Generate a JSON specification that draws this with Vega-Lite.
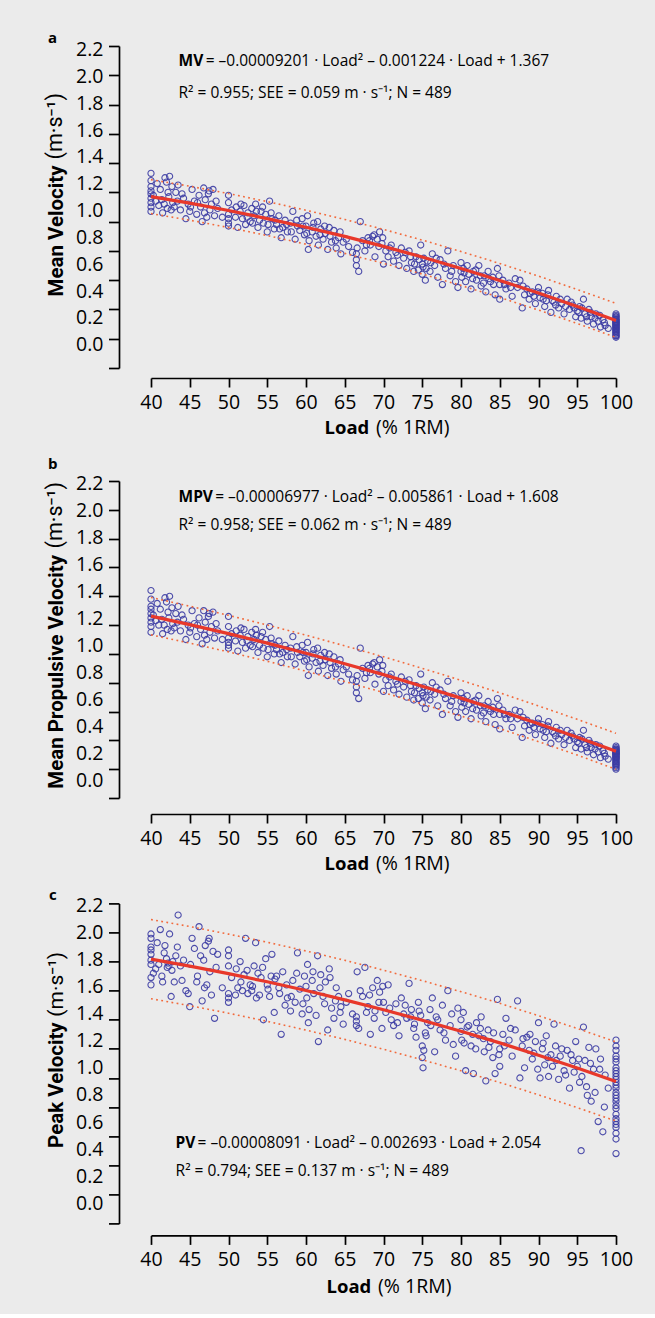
{
"$schema":"https://vega.github.io/schema/vega-lite/v6.json",
"background":"#ebebeb",
"padding":{"left":44,"top":31,"right":23,"bottom":18},
"spacing":20,
"config":{"view":{"stroke":null},"axis":{"grid":false,"domainColor":"#000","tickColor":"#000","labelColor":"#000","titleColor":"#000","domainWidth":1.7,"tickWidth":1.7}},
"datasets":{
"pts":[
{"x":40,"a":1.33,"b":1.44,"c":1.99},{"x":40,"a":1.28,"b":1.38,"c":1.96},{"x":40,"a":1.21,"b":1.31,"c":1.90},{"x":40,"a":1.16,"b":1.25,"c":1.85},{"x":40,"a":1.13,"b":1.22,"c":1.69},{"x":40,"a":1.10,"b":1.19,"c":1.64},{"x":40,"a":1.07,"b":1.15,"c":1.78},{"x":40,"a":1.24,"b":1.33,"c":1.88},{"x":40,"a":1.19,"b":1.28,"c":1.81},
{"x":40.6,"a":1.14,"b":1.23,"c":1.75},{"x":41,"a":1.11,"b":1.20,"c":1.78},{"x":41.2,"a":1.22,"b":1.31,"c":2.02},{"x":41.5,"a":1.06,"b":1.14,"c":1.66},{"x":41.8,"a":1.30,"b":1.39,"c":1.91},{"x":42,"a":1.27,"b":1.36,"c":1.82},{"x":42.1,"a":1.09,"b":1.17,"c":1.76},{"x":42.3,"a":1.17,"b":1.25,"c":1.77},{"x":42.4,"a":1.31,"b":1.40,"c":1.99},{"x":42.6,"a":1.08,"b":1.16,"c":1.56},{"x":42.8,"a":1.13,"b":1.21,"c":1.80},{"x":43,"a":1.10,"b":1.18,"c":1.66},{"x":43.2,"a":1.20,"b":1.28,"c":1.84},{"x":43.5,"a":1.25,"b":1.33,"c":2.12},{"x":43.8,"a":1.08,"b":1.16,"c":1.77},{"x":44.2,"a":1.16,"b":1.24,"c":1.81},{"x":44.5,"a":1.02,"b":1.10,"c":1.60},{"x":44.8,"a":1.12,"b":1.20,"c":1.58},
{"x":45,"a":1.07,"b":1.15,"c":1.49},{"x":45.3,"a":1.22,"b":1.30,"c":1.96},{"x":45.6,"a":1.14,"b":1.21,"c":1.89},{"x":45.9,"a":1.05,"b":1.12,"c":1.66},{"x":46.2,"a":1.18,"b":1.25,"c":2.04},{"x":46.4,"a":1.10,"b":1.17,"c":1.84},{"x":46.6,"a":1.00,"b":1.07,"c":1.53},{"x":46.8,"a":1.23,"b":1.30,"c":1.81},{"x":47,"a":1.15,"b":1.22,"c":1.91},{"x":47.2,"a":1.03,"b":1.10,"c":1.64},{"x":47.4,"a":1.19,"b":1.26,"c":1.94},{"x":47.6,"a":1.08,"b":1.15,"c":1.73},{"x":47.8,"a":1.12,"b":1.19,"c":1.57},{"x":48,"a":1.22,"b":1.29,"c":1.87},{"x":48.2,"a":1.04,"b":1.11,"c":1.41},{"x":48.6,"a":1.09,"b":1.16,"c":1.85},{"x":49.2,"a":1.03,"b":1.10,"c":1.62},
{"x":50,"a":1.18,"b":1.26,"c":1.88},{"x":50,"a":1.13,"b":1.19,"c":1.84},{"x":50,"a":1.02,"b":1.08,"c":1.58},{"x":50,"a":0.97,"b":1.04,"c":1.52},{"x":50,"a":0.99,"b":1.06,"c":1.55},{"x":50,"a":1.05,"b":1.11,"c":1.77},
{"x":51,"a":1.10,"b":1.16,"c":1.75},{"x":51.2,"a":0.96,"b":1.02,"c":1.62},{"x":51.5,"a":1.07,"b":1.13,"c":1.80},{"x":51.8,"a":1.02,"b":1.08,"c":1.60},{"x":52,"a":1.11,"b":1.17,"c":1.71},{"x":52.2,"a":0.98,"b":1.04,"c":1.96},{"x":52.5,"a":1.06,"b":1.12,"c":1.58},{"x":52.8,"a":1.00,"b":1.06,"c":1.64},{"x":53,"a":1.09,"b":1.15,"c":1.60},{"x":53.3,"a":1.04,"b":1.10,"c":1.77},{"x":53.5,"a":1.12,"b":1.17,"c":1.93},{"x":53.8,"a":0.96,"b":1.01,"c":1.72},{"x":54,"a":1.01,"b":1.06,"c":1.57},{"x":54.2,"a":1.07,"b":1.12,"c":1.69},{"x":54.5,"a":0.99,"b":1.04,"c":1.40},{"x":54.8,"a":1.05,"b":1.10,"c":1.82},{"x":55,"a":0.93,"b":0.98,"c":1.64},{"x":55.3,"a":1.14,"b":1.19,"c":1.56},{"x":55.6,"a":1.02,"b":1.07,"c":1.85},{"x":55.9,"a":0.95,"b":1.00,"c":1.45},
{"x":56.2,"a":0.98,"b":1.03,"c":1.70},{"x":56.5,"a":1.04,"b":1.09,"c":1.62},{"x":56.8,"a":0.89,"b":0.94,"c":1.30},{"x":57,"a":0.96,"b":1.01,"c":1.73},{"x":57.3,"a":1.01,"b":1.06,"c":1.50},{"x":57.6,"a":0.93,"b":0.98,"c":1.55},{"x":58,"a":0.99,"b":1.04,"c":1.46},{"x":58.3,"a":1.07,"b":1.12,"c":1.67},{"x":58.6,"a":0.88,"b":0.93,"c":1.52},{"x":58.9,"a":0.97,"b":1.01,"c":1.86},{"x":59.2,"a":0.94,"b":0.98,"c":1.61},{"x":59.5,"a":1.02,"b":1.06,"c":1.44},{"x":59.8,"a":0.91,"b":0.95,"c":1.70},
{"x":60,"a":0.97,"b":1.01,"c":1.63},{"x":60.2,"a":1.04,"b":1.08,"c":1.78},{"x":60.4,"a":0.87,"b":0.91,"c":1.47},{"x":60.3,"a":0.81,"b":0.85,"c":1.38},{"x":60.8,"a":0.93,"b":0.97,"c":1.67},{"x":61,"a":0.99,"b":1.03,"c":1.58},{"x":61.3,"a":0.90,"b":0.94,"c":1.43},{"x":61.5,"a":1.00,"b":1.04,"c":1.84},{"x":61.6,"a":0.84,"b":0.88,"c":1.25},{"x":61.9,"a":0.95,"b":0.99,"c":1.71},{"x":62.2,"a":0.88,"b":0.92,"c":1.56},{"x":62.5,"a":0.92,"b":0.96,"c":1.66},{"x":62.8,"a":0.81,"b":0.85,"c":1.33},{"x":63,"a":0.96,"b":1.00,"c":1.75},{"x":63.3,"a":0.86,"b":0.90,"c":1.48},{"x":63.6,"a":0.94,"b":0.98,"c":1.41},{"x":63.9,"a":0.82,"b":0.86,"c":1.62},{"x":64.2,"a":0.89,"b":0.93,"c":1.56},{"x":64.5,"a":0.78,"b":0.81,"c":1.49},{"x":64.8,"a":0.86,"b":0.89,"c":1.37},
{"x":65.5,"a":0.83,"b":0.86,"c":1.58},{"x":66,"a":0.79,"b":0.82,"c":1.44},{"x":66.5,"a":0.74,"b":0.77,"c":1.39},{"x":66.5,"a":0.70,"b":0.73,"c":1.36},{"x":66.5,"a":0.78,"b":0.81,"c":1.42},{"x":66.6,"a":0.82,"b":0.85,"c":1.73},{"x":66.8,"a":0.66,"b":0.69,"c":1.34},{"x":67,"a":1.00,"b":1.04,"c":1.60},{"x":67.3,"a":0.87,"b":0.90,"c":1.56},{"x":67.6,"a":0.80,"b":0.83,"c":1.76},{"x":68,"a":0.89,"b":0.92,"c":1.49},{"x":68.3,"a":0.84,"b":0.87,"c":1.30},{"x":68.6,"a":0.90,"b":0.93,"c":1.62},{"x":68.9,"a":0.76,"b":0.79,"c":1.46},{"x":69.2,"a":0.88,"b":0.91,"c":1.67},{"x":69.5,"a":0.93,"b":0.96,"c":1.59},{"x":69.8,"a":0.85,"b":0.88,"c":1.34},{"x":70,"a":0.71,"b":0.74,"c":1.52},
{"x":70.3,"a":0.80,"b":0.82,"c":1.45},{"x":70.6,"a":0.76,"b":0.78,"c":1.64},{"x":71,"a":0.84,"b":0.86,"c":1.40},{"x":71.3,"a":0.73,"b":0.75,"c":1.36},{"x":71.6,"a":0.79,"b":0.81,"c":1.51},{"x":72,"a":0.70,"b":0.72,"c":1.29},{"x":72.3,"a":0.82,"b":0.84,"c":1.55},{"x":72.6,"a":0.75,"b":0.77,"c":1.44},{"x":73,"a":0.68,"b":0.70,"c":1.41},{"x":73.3,"a":0.80,"b":0.82,"c":1.65},{"x":73.6,"a":0.72,"b":0.74,"c":1.47},{"x":73.9,"a":0.66,"b":0.68,"c":1.34},{"x":74.2,"a":0.76,"b":0.78,"c":1.28},{"x":74.5,"a":0.67,"b":0.69,"c":1.52},{"x":74.8,"a":0.84,"b":0.86,"c":1.43},
{"x":75,"a":0.71,"b":0.73,"c":1.22},{"x":75,"a":0.64,"b":0.66,"c":1.14},{"x":75.1,"a":0.69,"b":0.71,"c":1.07},{"x":75.2,"a":0.75,"b":0.77,"c":1.19},{"x":75.4,"a":0.60,"b":0.62,"c":1.31},{"x":75.7,"a":0.73,"b":0.75,"c":1.38},{"x":76,"a":0.66,"b":0.68,"c":1.47},{"x":76.3,"a":0.78,"b":0.80,"c":1.55},{"x":76.6,"a":0.70,"b":0.72,"c":1.18},{"x":77,"a":0.62,"b":0.64,"c":1.40},{"x":77.3,"a":0.74,"b":0.75,"c":1.33},{"x":77.6,"a":0.57,"b":0.58,"c":1.50},{"x":78,"a":0.68,"b":0.69,"c":1.26},{"x":78.3,"a":0.80,"b":0.81,"c":1.60},{"x":78.6,"a":0.63,"b":0.64,"c":1.36},{"x":79,"a":0.70,"b":0.71,"c":1.23},{"x":79.3,"a":0.59,"b":0.60,"c":1.15},{"x":79.6,"a":0.55,"b":0.56,"c":1.48},
{"x":80,"a":0.66,"b":0.67,"c":1.32},{"x":80,"a":0.72,"b":0.73,"c":1.40},{"x":80.1,"a":0.62,"b":0.63,"c":1.26},{"x":80.3,"a":0.68,"b":0.69,"c":1.45},{"x":80.6,"a":0.59,"b":0.60,"c":1.05},{"x":81,"a":0.64,"b":0.65,"c":1.36},{"x":81.3,"a":0.54,"b":0.55,"c":1.22},{"x":81.6,"a":0.66,"b":0.67,"c":1.03},{"x":82,"a":0.60,"b":0.61,"c":1.38},{"x":82.3,"a":0.70,"b":0.71,"c":1.29},{"x":82.6,"a":0.56,"b":0.57,"c":1.42},{"x":83,"a":0.63,"b":0.64,"c":1.18},{"x":83.2,"a":0.52,"b":0.53,"c":0.98},{"x":83.5,"a":0.66,"b":0.67,"c":1.33},{"x":83.8,"a":0.59,"b":0.60,"c":1.25},{"x":84.1,"a":0.62,"b":0.63,"c":1.14},{"x":84.4,"a":0.50,"b":0.51,"c":1.03},{"x":84.7,"a":0.68,"b":0.69,"c":1.54},{"x":85,"a":0.57,"b":0.58,"c":1.20},{"x":85,"a":0.47,"b":0.48,"c":1.08},
{"x":85.4,"a":0.60,"b":0.61,"c":1.30},{"x":85.8,"a":0.54,"b":0.55,"c":1.41},{"x":86.2,"a":0.58,"b":0.58,"c":1.26},{"x":86.6,"a":0.49,"b":0.49,"c":1.15},{"x":87,"a":0.61,"b":0.61,"c":1.33},{"x":87.3,"a":0.55,"b":0.55,"c":1.53},{"x":87.6,"a":0.60,"b":0.60,"c":1.00},{"x":87.9,"a":0.41,"b":0.42,"c":1.22},{"x":88.2,"a":0.50,"b":0.50,"c":1.07},{"x":88.5,"a":0.54,"b":0.54,"c":1.28},{"x":88.8,"a":0.47,"b":0.47,"c":1.19},{"x":89.2,"a":0.52,"b":0.52,"c":1.13},{"x":89.6,"a":0.44,"b":0.44,"c":1.25},
{"x":90,"a":0.55,"b":0.55,"c":1.38},{"x":90.2,"a":0.48,"b":0.48,"c":1.00},{"x":90.5,"a":0.51,"b":0.51,"c":1.20},{"x":90.8,"a":0.42,"b":0.42,"c":1.09},{"x":91,"a":0.46,"b":0.46,"c":1.29},{"x":91.3,"a":0.53,"b":0.53,"c":1.01},{"x":91.6,"a":0.38,"b":0.38,"c":1.16},{"x":92,"a":0.45,"b":0.45,"c":1.37},{"x":92.3,"a":0.49,"b":0.49,"c":1.12},{"x":92.6,"a":0.41,"b":0.41,"c":0.99},{"x":93,"a":0.44,"b":0.44,"c":1.20},{"x":93.3,"a":0.37,"b":0.37,"c":1.05},{"x":93.7,"a":0.47,"b":0.47,"c":1.19},{"x":94,"a":0.40,"b":0.40,"c":0.93},{"x":94.4,"a":0.43,"b":0.43,"c":1.12},{"x":94.8,"a":0.35,"b":0.35,"c":1.25},{"x":95,"a":0.39,"b":0.39,"c":1.08},
{"x":95.3,"a":0.42,"b":0.42,"c":0.97},{"x":95.5,"a":0.34,"b":0.34,"c":0.50},{"x":95.8,"a":0.47,"b":0.47,"c":1.35},{"x":96,"a":0.37,"b":0.37,"c":1.12},{"x":96.3,"a":0.32,"b":0.32,"c":0.88},{"x":96.5,"a":0.40,"b":0.40,"c":1.21},{"x":96.8,"a":0.35,"b":0.35,"c":0.84},{"x":97.1,"a":0.30,"b":0.30,"c":1.06},{"x":97.4,"a":0.37,"b":0.37,"c":1.20},{"x":97.7,"a":0.32,"b":0.32,"c":0.70},{"x":98,"a":0.28,"b":0.28,"c":1.13},{"x":98.3,"a":0.33,"b":0.33,"c":0.63},{"x":98.6,"a":0.29,"b":0.29,"c":1.02},{"x":99,"a":0.27,"b":0.27,"c":0.93},
{"x":100,"a":0.37,"b":0.36,"c":1.26},{"x":100,"a":0.35,"b":0.34,"c":0.97},{"x":100,"a":0.34,"b":0.35,"c":1.19},{"x":100,"a":0.33,"b":0.32,"c":0.88},{"x":100,"a":0.32,"b":0.33,"c":1.11},{"x":100,"a":0.31,"b":0.30,"c":0.62},{"x":100,"a":0.30,"b":0.31,"c":1.03},{"x":100,"a":0.29,"b":0.28,"c":0.79},{"x":100,"a":0.28,"b":0.29,"c":1.15},{"x":100,"a":0.27,"b":0.26,"c":0.93},{"x":100,"a":0.26,"b":0.25,"c":0.70},{"x":100,"a":0.25,"b":0.24,"c":1.07},{"x":100,"a":0.24,"b":0.23,"c":0.84},{"x":100,"a":0.23,"b":0.22,"c":0.99},{"x":100,"a":0.22,"b":0.21,"c":0.58},{"x":100,"a":0.21,"b":0.20,"c":0.90},{"x":100,"a":0.36,"b":0.34,"c":1.22},{"x":100,"a":0.31,"b":0.32,"c":0.48},{"x":100,"a":0.28,"b":0.27,"c":0.75},{"x":100,"a":0.33,"b":0.31,"c":1.01},{"x":100,"a":0.26,"b":0.27,"c":0.66},{"x":100,"a":0.30,"b":0.29,"c":0.86},
{"x":40.3,"a":1.18,"b":1.27,"c":1.72},{"x":40.8,"a":1.26,"b":1.35,"c":1.93},{"x":41.4,"a":1.15,"b":1.24,"c":1.70},{"x":41.7,"a":1.12,"b":1.20,"c":1.86},{"x":42.2,"a":1.20,"b":1.29,"c":1.79},{"x":42.7,"a":1.24,"b":1.32,"c":1.74},{"x":43.4,"a":1.14,"b":1.22,"c":1.90},{"x":44,"a":1.19,"b":1.27,"c":1.67},{"x":45.1,"a":1.10,"b":1.18,"c":1.78},{"x":46,"a":1.13,"b":1.20,"c":1.70},{"x":46.9,"a":1.06,"b":1.13,"c":1.62},{"x":47.5,"a":1.21,"b":1.28,"c":1.96},{"x":48.4,"a":1.14,"b":1.21,"c":1.76},
{"x":50.4,"a":1.08,"b":1.14,"c":1.69},{"x":50.9,"a":1.03,"b":1.09,"c":1.57},{"x":51.6,"a":1.12,"b":1.18,"c":1.66},{"x":52.4,"a":1.03,"b":1.09,"c":1.74},{"x":53.1,"a":0.99,"b":1.05,"c":1.63},{"x":53.6,"a":1.07,"b":1.13,"c":1.55},{"x":54.4,"a":1.10,"b":1.15,"c":1.76},{"x":55.1,"a":0.98,"b":1.03,"c":1.61},{"x":55.5,"a":1.06,"b":1.11,"c":1.70},{"x":56,"a":1.01,"b":1.06,"c":1.68},{"x":56.6,"a":0.95,"b":1.00,"c":1.58},{"x":57.5,"a":0.98,"b":1.03,"c":1.64},{"x":58.1,"a":0.93,"b":0.98,"c":1.56},{"x":58.8,"a":1.01,"b":1.05,"c":1.72},{"x":59.6,"a":0.97,"b":1.01,"c":1.51},
{"x":60.1,"a":0.92,"b":0.96,"c":1.55},{"x":60.9,"a":0.96,"b":1.00,"c":1.73},{"x":61.8,"a":0.91,"b":0.95,"c":1.62},{"x":62.4,"a":0.97,"b":1.01,"c":1.51},{"x":63.1,"a":0.90,"b":0.94,"c":1.69},{"x":63.8,"a":0.87,"b":0.91,"c":1.53},{"x":64.4,"a":0.93,"b":0.96,"c":1.45},{"x":65.2,"a":0.88,"b":0.91,"c":1.52},
{"x":67.8,"a":0.84,"b":0.87,"c":1.45},{"x":68.2,"a":0.87,"b":0.90,"c":1.57},{"x":68.8,"a":0.91,"b":0.94,"c":1.41},{"x":69.4,"a":0.83,"b":0.86,"c":1.52},{"x":69.9,"a":0.89,"b":0.92,"c":1.63},{"x":70.8,"a":0.82,"b":0.84,"c":1.48},{"x":71.8,"a":0.77,"b":0.79,"c":1.38},{"x":72.8,"a":0.79,"b":0.81,"c":1.50},
{"x":73.5,"a":0.76,"b":0.78,"c":1.42},{"x":74,"a":0.71,"b":0.73,"c":1.37},{"x":74.6,"a":0.74,"b":0.76,"c":1.46},{"x":75.5,"a":0.68,"b":0.70,"c":1.29},{"x":76.1,"a":0.72,"b":0.74,"c":1.36},{"x":76.8,"a":0.75,"b":0.77,"c":1.42},{"x":77.8,"a":0.71,"b":0.72,"c":1.31},{"x":78.8,"a":0.66,"b":0.67,"c":1.44},
{"x":80.4,"a":0.65,"b":0.66,"c":1.24},{"x":80.8,"a":0.70,"b":0.71,"c":1.35},{"x":81.5,"a":0.61,"b":0.62,"c":1.30},{"x":81.9,"a":0.67,"b":0.68,"c":1.20},{"x":82.5,"a":0.63,"b":0.64,"c":1.34},{"x":82.9,"a":0.58,"b":0.59,"c":1.27},{"x":83.6,"a":0.61,"b":0.62,"c":1.21},{"x":84.2,"a":0.57,"b":0.58,"c":1.31},{"x":84.9,"a":0.63,"b":0.64,"c":1.16},{"x":85.6,"a":0.57,"b":0.58,"c":1.22},{"x":86.4,"a":0.55,"b":0.55,"c":1.34},
{"x":88,"a":0.56,"b":0.56,"c":1.27},{"x":88.9,"a":0.51,"b":0.51,"c":1.30},{"x":89.4,"a":0.49,"b":0.49,"c":1.17},{"x":89.9,"a":0.52,"b":0.52,"c":1.06},{"x":90.6,"a":0.47,"b":0.47,"c":1.24},{"x":91.2,"a":0.50,"b":0.50,"c":1.14},{"x":91.8,"a":0.46,"b":0.46,"c":1.08},{"x":92.2,"a":0.43,"b":0.43,"c":1.22},{"x":92.8,"a":0.47,"b":0.47,"c":1.15},{"x":93.5,"a":0.42,"b":0.42,"c":1.02},{"x":94.2,"a":0.45,"b":0.45,"c":1.16},{"x":94.6,"a":0.41,"b":0.41,"c":1.04},{"x":95.2,"a":0.38,"b":0.38,"c":1.13},{"x":95.6,"a":0.41,"b":0.41,"c":1.01},{"x":96.2,"a":0.35,"b":0.35,"c":0.94},{"x":96.7,"a":0.38,"b":0.38,"c":1.10},{"x":97.3,"a":0.34,"b":0.34,"c":0.90},{"x":97.9,"a":0.36,"b":0.36,"c":1.06},{"x":98.5,"a":0.31,"b":0.31,"c":0.80},
{"x":100,"a":0.35,"b":0.33,"c":1.13},{"x":100,"a":0.29,"b":0.30,"c":1.05},{"x":100,"a":0.24,"b":0.25,"c":0.95},{"x":100,"a":0.32,"b":0.31,"c":0.81},{"x":100,"a":0.27,"b":0.28,"c":0.72},{"x":100,"a":0.22,"b":0.23,"c":0.68}
],
"fit":[
{"x":40,"a":1.171,"alo":1.055,"ahi":1.287,"b":1.262,"blo":1.132,"bhi":1.392,"c":1.817,"clo":1.545,"chi":2.089},
{"x":45,"a":1.126,"alo":1.010,"ahi":1.242,"b":1.203,"blo":1.075,"bhi":1.331,"c":1.769,"clo":1.497,"chi":2.041},
{"x":50,"a":1.076,"alo":0.960,"ahi":1.192,"b":1.141,"blo":1.014,"bhi":1.268,"c":1.717,"clo":1.445,"chi":1.989},
{"x":55,"a":1.021,"alo":0.905,"ahi":1.137,"b":1.075,"blo":0.949,"bhi":1.201,"c":1.661,"clo":1.389,"chi":1.933},
{"x":60,"a":0.962,"alo":0.846,"ahi":1.078,"b":1.005,"blo":0.880,"bhi":1.130,"c":1.601,"clo":1.329,"chi":1.873},
{"x":65,"a":0.899,"alo":0.783,"ahi":1.015,"b":0.932,"blo":0.808,"bhi":1.056,"c":1.537,"clo":1.265,"chi":1.809},
{"x":70,"a":0.831,"alo":0.715,"ahi":0.947,"b":0.856,"blo":0.732,"bhi":0.980,"c":1.469,"clo":1.197,"chi":1.741},
{"x":75,"a":0.758,"alo":0.642,"ahi":0.874,"b":0.776,"blo":0.652,"bhi":0.900,"c":1.397,"clo":1.125,"chi":1.669},
{"x":80,"a":0.680,"alo":0.564,"ahi":0.796,"b":0.693,"blo":0.569,"bhi":0.817,"c":1.321,"clo":1.049,"chi":1.593},
{"x":85,"a":0.598,"alo":0.482,"ahi":0.714,"b":0.606,"blo":0.482,"bhi":0.730,"c":1.241,"clo":0.969,"chi":1.513},
{"x":90,"a":0.512,"alo":0.396,"ahi":0.628,"b":0.515,"blo":0.391,"bhi":0.639,"c":1.156,"clo":0.884,"chi":1.428},
{"x":95,"a":0.420,"alo":0.304,"ahi":0.536,"b":0.422,"blo":0.298,"bhi":0.546,"c":1.068,"clo":0.796,"chi":1.340},
{"x":100,"a":0.325,"alo":0.209,"ahi":0.441,"b":0.324,"blo":0.199,"bhi":0.449,"c":0.976,"clo":0.704,"chi":1.248}
]
},
"vconcat":[
{
"width":465,"height":322,
"title":{"text":"a","anchor":"start","frame":"bounds","baseline":"bottom","offset":-21.75,"dx":4,"font":"Open Sans","fontSize":15,"fontWeight":"bold","color":"#000"},
"layer":[
{"data":{"name":"pts"},"mark":{"type":"point","shape":"circle","filled":false,"size":38,"strokeWidth":1.1,"color":"#3c3ca4","opacity":0.9},
"encoding":{
"x":{"field":"x","type":"quantitative","scale":{"domain":[40,100],"nice":false,"zero":false},"axis":{"values":[40,45,50,55,60,65,70,75,80,85,90,95,100],"offset":10,"tickSize":9,"labelPadding":6,"labelFont":"Open Sans","labelFontSize":19.5,"labelFlush":false,"labelOverlap":false,"title":"Load","titleFont":"Open Sans","titleFontSize":18.5,"titleFontWeight":"bold","titleAlign":"left","titleBaseline":"top","titleX":173,"titleY":40,"titleAngle":0}},
"y":{"field":"a","type":"quantitative","scale":{"domain":[0,2.2],"nice":false,"zero":false},"axis":{"values":[0,0.2,0.4,0.6,0.8,1,1.2,1.4,1.6,1.8,2,2.2],"offset":32,"tickSize":10.5,"labels":false,"title":"(m·s⁻¹)","titleFont":"Roboto","titleFontSize":21.5,"titleFontWeight":"normal","titleAngle":-90,"titleAlign":"right","titleBaseline":"bottom","titleX":-53,"titleY":46.6}}
}},
{"data":{"name":"fit"},"mark":{"type":"line","color":"#f26a3c","strokeWidth":1.6,"strokeDash":[1.8,3.4]},"encoding":{"x":{"field":"x","type":"quantitative","scale":{"domain":[40,100],"nice":false},"axis":null},"y":{"field":"alo","type":"quantitative","scale":{"domain":[0,2.2],"nice":false},"axis":null}}},
{"data":{"name":"fit"},"mark":{"type":"line","color":"#f26a3c","strokeWidth":1.6,"strokeDash":[1.8,3.4]},"encoding":{"x":{"field":"x","type":"quantitative","scale":{"domain":[40,100],"nice":false},"axis":null},"y":{"field":"ahi","type":"quantitative","scale":{"domain":[0,2.2],"nice":false},"axis":null}}},
{"data":{"name":"fit"},"mark":{"type":"line","color":"#e8382a","strokeWidth":3.2},"encoding":{"x":{"field":"x","type":"quantitative","scale":{"domain":[40,100],"nice":false},"axis":null},"y":{"field":"a","type":"quantitative","scale":{"domain":[0,2.2],"nice":false},"axis":null}}},
{"data":{"values":[{}]},"mark":{"type":"text","text":"MV","font":"Open Sans","fontSize":15.5,"fontWeight":"bold","align":"left","baseline":"middle","color":"#000"},"encoding":{"x":{"datum":43.55,"type":"quantitative","scale":{"domain":[40,100],"nice":false},"axis":null},"y":{"datum":2.095,"type":"quantitative","scale":{"domain":[0,2.2],"nice":false},"axis":null}}},
{"data":{"values":[{}]},"mark":{"type":"text","text":"= –0.00009201 · Load² – 0.001224 · Load + 1.367","font":"Open Sans","fontSize":15.5,"align":"left","baseline":"middle","color":"#000"},"encoding":{"x":{"datum":47.05,"type":"quantitative","scale":{"domain":[40,100],"nice":false},"axis":null},"y":{"datum":2.095,"type":"quantitative","scale":{"domain":[0,2.2],"nice":false},"axis":null}}},
{"data":{"values":[{}]},"mark":{"type":"text","text":"R² = 0.955; SEE = 0.059 m · s⁻¹; N = 489","font":"Open Sans","fontSize":15.5,"align":"left","baseline":"middle","color":"#000"},"encoding":{"x":{"datum":43.55,"type":"quantitative","scale":{"domain":[40,100],"nice":false},"axis":null},"y":{"datum":1.882,"type":"quantitative","scale":{"domain":[0,2.2],"nice":false},"axis":null}}},
{"data":{"name":"pts"},"mark":{"type":"point","opacity":0},
"encoding":{
"x":{"field":"x","type":"quantitative","scale":{"domain":[40,100],"nice":false,"zero":false},"axis":{"orient":"bottom","offset":10,"domain":false,"ticks":false,"labels":false,"title":"(% 1RM)","titleFont":"Open Sans","titleFontSize":19.5,"titleFontWeight":"normal","titleAlign":"right","titleBaseline":"top","titleX":298,"titleY":40,"titleAngle":0}},
"y":{"field":"a","type":"quantitative","scale":{"domain":[-0.1726,2.2268],"nice":false,"zero":false},"axis":{"orient":"left","offset":32,"values":[0,0.2,0.4,0.6,0.8,1,1.2,1.4,1.6,1.8,2,2.2],"format":".1f","domain":false,"ticks":false,"tickSize":0,"labelPadding":16,"labelFont":"Open Sans","labelFontSize":19.5,"title":"Mean Velocity","titleFont":"Roboto","titleFontSize":20.5,"titleFontWeight":"bold","titleAngle":-90,"titleAlign":"left","titleBaseline":"bottom","titleX":-53,"titleY":250}}
}}
],
"resolve":{"scale":{"x":"independent","y":"independent"}}
},
{
"spacing":14.4,
"vconcat":[
{
"width":465,"height":317,
"title":{"text":"b","anchor":"start","frame":"bounds","baseline":"bottom","offset":-13.75,"dx":4,"font":"Open Sans","fontSize":15,"fontWeight":"bold","color":"#000"},
"layer":[
{"data":{"name":"pts"},"mark":{"type":"point","shape":"circle","filled":false,"size":38,"strokeWidth":1.1,"color":"#3c3ca4","opacity":0.9},
"encoding":{
"x":{"field":"x","type":"quantitative","scale":{"domain":[40,100],"nice":false,"zero":false},"axis":{"values":[40,45,50,55,60,65,70,75,80,85,90,95,100],"offset":16,"tickSize":9,"labelPadding":6,"labelFont":"Open Sans","labelFontSize":19.5,"labelFlush":false,"labelOverlap":false,"title":"Load","titleFont":"Open Sans","titleFontSize":18.5,"titleFontWeight":"bold","titleAlign":"left","titleBaseline":"top","titleX":173,"titleY":40,"titleAngle":0}},
"y":{"field":"b","type":"quantitative","scale":{"domain":[0,2.2],"nice":false,"zero":false},"axis":{"values":[0,0.2,0.4,0.6,0.8,1,1.2,1.4,1.6,1.8,2,2.2],"offset":32,"tickSize":10.5,"labels":false,"title":"(m·s⁻¹)","titleFont":"Roboto","titleFontSize":21.5,"titleFontWeight":"normal","titleAngle":-90,"titleAlign":"right","titleBaseline":"bottom","titleX":-53,"titleY":0.6}}
}},
{"data":{"name":"fit"},"mark":{"type":"line","color":"#f26a3c","strokeWidth":1.6,"strokeDash":[1.8,3.4]},"encoding":{"x":{"field":"x","type":"quantitative","scale":{"domain":[40,100],"nice":false},"axis":null},"y":{"field":"blo","type":"quantitative","scale":{"domain":[0,2.2],"nice":false},"axis":null}}},
{"data":{"name":"fit"},"mark":{"type":"line","color":"#f26a3c","strokeWidth":1.6,"strokeDash":[1.8,3.4]},"encoding":{"x":{"field":"x","type":"quantitative","scale":{"domain":[40,100],"nice":false},"axis":null},"y":{"field":"bhi","type":"quantitative","scale":{"domain":[0,2.2],"nice":false},"axis":null}}},
{"data":{"name":"fit"},"mark":{"type":"line","color":"#e8382a","strokeWidth":3.2},"encoding":{"x":{"field":"x","type":"quantitative","scale":{"domain":[40,100],"nice":false},"axis":null},"y":{"field":"b","type":"quantitative","scale":{"domain":[0,2.2],"nice":false},"axis":null}}},
{"data":{"values":[{}]},"mark":{"type":"text","text":"MPV","font":"Open Sans","fontSize":15.5,"fontWeight":"bold","align":"left","baseline":"middle","color":"#000"},"encoding":{"x":{"datum":43.55,"type":"quantitative","scale":{"domain":[40,100],"nice":false},"axis":null},"y":{"datum":2.092,"type":"quantitative","scale":{"domain":[0,2.2],"nice":false},"axis":null}}},
{"data":{"values":[{}]},"mark":{"type":"text","text":"= –0.00006977 · Load² – 0.005861 · Load + 1.608","font":"Open Sans","fontSize":15.5,"align":"left","baseline":"middle","color":"#000"},"encoding":{"x":{"datum":48.28,"type":"quantitative","scale":{"domain":[40,100],"nice":false},"axis":null},"y":{"datum":2.092,"type":"quantitative","scale":{"domain":[0,2.2],"nice":false},"axis":null}}},
{"data":{"values":[{}]},"mark":{"type":"text","text":"R² = 0.958; SEE = 0.062 m · s⁻¹; N = 489","font":"Open Sans","fontSize":15.5,"align":"left","baseline":"middle","color":"#000"},"encoding":{"x":{"datum":43.55,"type":"quantitative","scale":{"domain":[40,100],"nice":false},"axis":null},"y":{"datum":1.895,"type":"quantitative","scale":{"domain":[0,2.2],"nice":false},"axis":null}}},
{"data":{"name":"pts"},"mark":{"type":"point","opacity":0},
"encoding":{
"x":{"field":"x","type":"quantitative","scale":{"domain":[40,100],"nice":false,"zero":false},"axis":{"orient":"bottom","offset":16,"domain":false,"ticks":false,"labels":false,"title":"(% 1RM)","titleFont":"Open Sans","titleFontSize":19.5,"titleFontWeight":"normal","titleAlign":"right","titleBaseline":"top","titleX":298,"titleY":40,"titleAngle":0}},
"y":{"field":"b","type":"quantitative","scale":{"domain":[-0.133,2.217],"nice":false,"zero":false},"axis":{"orient":"left","offset":32,"values":[0,0.2,0.4,0.6,0.8,1,1.2,1.4,1.6,1.8,2,2.2],"format":".1f","domain":false,"ticks":false,"tickSize":0,"labelPadding":16,"labelFont":"Open Sans","labelFontSize":19.5,"title":"Mean Propulsive Velocity","titleFont":"Roboto","titleFontSize":20.5,"titleFontWeight":"bold","titleAngle":-90,"titleAlign":"left","titleBaseline":"bottom","titleX":-53,"titleY":307.3}}
}}
],
"resolve":{"scale":{"x":"independent","y":"independent"}}
},
{
"width":465,"height":320,
"title":{"text":"c","anchor":"start","frame":"bounds","baseline":"bottom","offset":-22.15,"dx":4,"font":"Open Sans","fontSize":15,"fontWeight":"bold","color":"#000"},
"layer":[
{"data":{"name":"pts"},"mark":{"type":"point","shape":"circle","filled":false,"size":38,"strokeWidth":1.1,"color":"#3c3ca4","opacity":0.9},
"encoding":{
"x":{"field":"x","type":"quantitative","scale":{"domain":[40,100],"nice":false,"zero":false},"axis":{"values":[40,45,50,55,60,65,70,75,80,85,90,95,100],"offset":12,"tickSize":9,"labelPadding":6,"labelFont":"Open Sans","labelFontSize":19.5,"labelFlush":false,"labelOverlap":false,"title":"Load","titleFont":"Open Sans","titleFontSize":18.5,"titleFontWeight":"bold","titleAlign":"left","titleBaseline":"top","titleX":175,"titleY":42,"titleAngle":0}},
"y":{"field":"c","type":"quantitative","scale":{"domain":[0,2.2],"nice":false,"zero":false},"axis":{"values":[0,0.2,0.4,0.6,0.8,1,1.2,1.4,1.6,1.8,2,2.2],"offset":32,"tickSize":10.5,"labels":false,"title":"(m·s⁻¹)","titleFont":"Roboto","titleFontSize":21,"titleFontWeight":"normal","titleAngle":-90,"titleAlign":"right","titleBaseline":"bottom","titleX":-53,"titleY":48}}
}},
{"data":{"name":"fit"},"mark":{"type":"line","color":"#f26a3c","strokeWidth":1.6,"strokeDash":[1.8,3.4]},"encoding":{"x":{"field":"x","type":"quantitative","scale":{"domain":[40,100],"nice":false},"axis":null},"y":{"field":"clo","type":"quantitative","scale":{"domain":[0,2.2],"nice":false},"axis":null}}},
{"data":{"name":"fit"},"mark":{"type":"line","color":"#f26a3c","strokeWidth":1.6,"strokeDash":[1.8,3.4]},"encoding":{"x":{"field":"x","type":"quantitative","scale":{"domain":[40,100],"nice":false},"axis":null},"y":{"field":"chi","type":"quantitative","scale":{"domain":[0,2.2],"nice":false},"axis":null}}},
{"data":{"name":"fit"},"mark":{"type":"line","color":"#e8382a","strokeWidth":3.2},"encoding":{"x":{"field":"x","type":"quantitative","scale":{"domain":[40,100],"nice":false},"axis":null},"y":{"field":"c","type":"quantitative","scale":{"domain":[0,2.2],"nice":false},"axis":null}}},
{"data":{"values":[{}]},"mark":{"type":"text","text":"PV","font":"Open Sans","fontSize":15.5,"fontWeight":"bold","align":"left","baseline":"middle","color":"#000"},"encoding":{"x":{"datum":43.17,"type":"quantitative","scale":{"domain":[40,100],"nice":false},"axis":null},"y":{"datum":0.55,"type":"quantitative","scale":{"domain":[0,2.2],"nice":false},"axis":null}}},
{"data":{"values":[{}]},"mark":{"type":"text","text":"= –0.00008091 · Load² – 0.002693 · Load + 2.054","font":"Open Sans","fontSize":15.5,"align":"left","baseline":"middle","color":"#000"},"encoding":{"x":{"datum":46.0,"type":"quantitative","scale":{"domain":[40,100],"nice":false},"axis":null},"y":{"datum":0.55,"type":"quantitative","scale":{"domain":[0,2.2],"nice":false},"axis":null}}},
{"data":{"values":[{}]},"mark":{"type":"text","text":"R² = 0.794; SEE = 0.137 m · s⁻¹; N = 489","font":"Open Sans","fontSize":15.5,"align":"left","baseline":"middle","color":"#000"},"encoding":{"x":{"datum":43.17,"type":"quantitative","scale":{"domain":[40,100],"nice":false},"axis":null},"y":{"datum":0.362,"type":"quantitative","scale":{"domain":[0,2.2],"nice":false},"axis":null}}},
{"data":{"name":"pts"},"mark":{"type":"point","opacity":0},
"encoding":{
"x":{"field":"x","type":"quantitative","scale":{"domain":[40,100],"nice":false,"zero":false},"axis":{"orient":"bottom","offset":12,"domain":false,"ticks":false,"labels":false,"title":"(% 1RM)","titleFont":"Open Sans","titleFontSize":19.5,"titleFontWeight":"normal","titleAlign":"right","titleBaseline":"top","titleX":300,"titleY":42,"titleAngle":0}},
"y":{"field":"c","type":"quantitative","scale":{"domain":[-0.15,2.217],"nice":false,"zero":false},"axis":{"orient":"left","offset":32,"values":[0,0.2,0.4,0.6,0.8,1,1.2,1.4,1.6,1.8,2,2.2],"format":".1f","domain":false,"ticks":false,"tickSize":0,"labelPadding":16,"labelFont":"Open Sans","labelFontSize":19.5,"title":"Peak Velocity","titleFont":"Roboto","titleFontSize":20.5,"titleFontWeight":"bold","titleAngle":-90,"titleAlign":"left","titleBaseline":"bottom","titleX":-53,"titleY":244}}
}}
],
"resolve":{"scale":{"x":"independent","y":"independent"}}
}
]
}
]
}
